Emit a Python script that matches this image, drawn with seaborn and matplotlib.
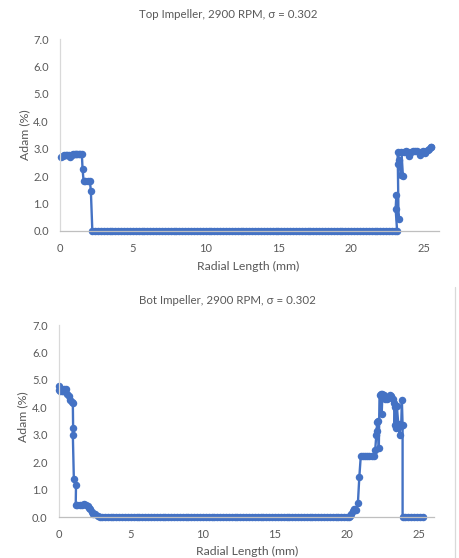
import matplotlib
matplotlib.use("Agg")
import matplotlib.pyplot as plt
from matplotlib.lines import Line2D
import seaborn as sns

# Top impeller: values, segment by segment
top_left_x = [0.10, 0.20, 0.30, 0.40, 0.50, 0.60, 0.70, 0.80, 0.90, 1.00, 1.10, 1.20,
              1.30, 1.40, 1.50, 1.55, 1.62, 1.75, 1.90, 2.05, 2.12]
top_left_y = [2.70, 2.72, 2.76, 2.77, 2.78, 2.77, 2.70, 2.77, 2.79, 2.79, 2.80, 2.81,
              2.82, 2.82, 2.80, 2.25, 1.82, 1.80, 1.82, 1.83, 1.45]
top_mid_x = [2.22, 2.4, 2.6, 2.8, 3.0, 3.2, 3.4, 3.6, 3.8, 4.0, 4.2, 4.4, 4.6, 4.8, 5.0,
             5.2, 5.4, 5.6, 5.8, 6.0, 6.2, 6.4, 6.6, 6.8, 7.0, 7.2, 7.4, 7.6, 7.8, 8.0,
             8.2, 8.4, 8.6, 8.8, 9.0, 9.2, 9.4, 9.6, 9.8, 10.0, 10.2, 10.4, 10.6, 10.8, 11.0,
             11.2, 11.4, 11.6, 11.8, 12.0, 12.2, 12.4, 12.6, 12.8, 13.0, 13.2, 13.4, 13.6, 13.8, 14.0,
             14.2, 14.4, 14.6, 14.8, 15.0, 15.2, 15.4, 15.6, 15.8, 16.0, 16.2, 16.4, 16.6, 16.8, 17.0,
             17.2, 17.4, 17.6, 17.8, 18.0, 18.2, 18.4, 18.6, 18.8, 19.0, 19.2, 19.4, 19.6, 19.8, 20.0,
             20.2, 20.4, 20.6, 20.8, 21.0, 21.2, 21.4, 21.6, 21.8, 22.0, 22.2, 22.4, 22.6, 22.8, 23.0,
             23.15]
top_mid_y = [0.0, 0.0, 0.0, 0.0, 0.0, 0.0, 0.0, 0.0, 0.0, 0.0, 0.0, 0.0, 0.0, 0.0, 0.0,
             0.0, 0.0, 0.0, 0.0, 0.0, 0.0, 0.0, 0.0, 0.0, 0.0, 0.0, 0.0, 0.0, 0.0, 0.0,
             0.0, 0.0, 0.0, 0.0, 0.0, 0.0, 0.0, 0.0, 0.0, 0.0, 0.0, 0.0, 0.0, 0.0, 0.0,
             0.0, 0.0, 0.0, 0.0, 0.0, 0.0, 0.0, 0.0, 0.0, 0.0, 0.0, 0.0, 0.0, 0.0, 0.0,
             0.0, 0.0, 0.0, 0.0, 0.0, 0.0, 0.0, 0.0, 0.0, 0.0, 0.0, 0.0, 0.0, 0.0, 0.0,
             0.0, 0.0, 0.0, 0.0, 0.0, 0.0, 0.0, 0.0, 0.0, 0.0, 0.0, 0.0, 0.0, 0.0, 0.0,
             0.0, 0.0, 0.0, 0.0, 0.0, 0.0, 0.0, 0.0, 0.0, 0.0, 0.0, 0.0, 0.0, 0.0, 0.0,
             0.0]
top_right_x = [23.05, 23.10, 23.25, 23.20, 23.18, 23.30, 23.40, 23.55, 23.45, 23.60,
               23.75, 23.90, 24.00, 24.10, 24.25, 24.40, 24.55, 24.70, 24.80, 24.95,
               25.05, 25.15, 25.25, 25.35, 25.45, 25.50]
top_right_y = [0.80, 1.30, 0.42, 2.45, 2.88, 2.60, 2.05, 2.00, 2.88, 2.88,
               2.90, 2.88, 2.75, 2.88, 2.90, 2.90, 2.90, 2.78, 2.88, 2.90,
               2.85, 2.92, 2.95, 3.00, 3.05, 3.05]

# Bottom impeller
bot_left_x = [0.00, 0.02, 0.10, 0.20, 0.30, 0.40, 0.50, 0.60, 0.70, 0.80, 0.90, 0.98,
              1.00, 0.98, 1.05, 1.20, 1.18, 1.30, 1.45, 1.60, 1.75, 1.90, 2.00, 2.10,
              2.20, 2.30, 2.40, 2.55, 2.70]
bot_left_y = [4.78, 4.62, 4.60, 4.60, 4.58, 4.65, 4.65, 4.50, 4.40, 4.25, 4.18, 4.15,
              3.25, 3.00, 1.40, 1.15, 0.43, 0.45, 0.45, 0.45, 0.47, 0.45, 0.40, 0.33,
              0.30, 0.20, 0.12, 0.10, 0.05]
bot_mid_x = [2.85, 3.0, 3.2, 3.4, 3.6, 3.8, 4.0, 4.2, 4.4, 4.6, 4.8, 5.0, 5.2, 5.4, 5.6, 5.8,
             6.0, 6.2, 6.4, 6.6, 6.8, 7.0, 7.2, 7.4, 7.6, 7.8, 8.0, 8.2, 8.4, 8.6, 8.8,
             9.0, 9.2, 9.4, 9.6, 9.8, 10.0, 10.2, 10.4, 10.6, 10.8, 11.0, 11.2, 11.4, 11.6, 11.8,
             12.0, 12.2, 12.4, 12.6, 12.8, 13.0, 13.2, 13.4, 13.6, 13.8, 14.0, 14.2, 14.4, 14.6, 14.8,
             15.0, 15.2, 15.4, 15.6, 15.8, 16.0, 16.2, 16.4, 16.6, 16.8, 17.0, 17.2, 17.4, 17.6, 17.8,
             18.0, 18.2, 18.4, 18.6, 18.8, 19.0, 19.2, 19.4, 19.6, 19.8, 20.0, 20.1]
bot_mid_y = [0.0, 0.0, 0.0, 0.0, 0.0, 0.0, 0.0, 0.0, 0.0, 0.0, 0.0, 0.0, 0.0, 0.0, 0.0, 0.0,
             0.0, 0.0, 0.0, 0.0, 0.0, 0.0, 0.0, 0.0, 0.0, 0.0, 0.0, 0.0, 0.0, 0.0, 0.0,
             0.0, 0.0, 0.0, 0.0, 0.0, 0.0, 0.0, 0.0, 0.0, 0.0, 0.0, 0.0, 0.0, 0.0, 0.0,
             0.0, 0.0, 0.0, 0.0, 0.0, 0.0, 0.0, 0.0, 0.0, 0.0, 0.0, 0.0, 0.0, 0.0, 0.0,
             0.0, 0.0, 0.0, 0.0, 0.0, 0.0, 0.0, 0.0, 0.0, 0.0, 0.0, 0.0, 0.0, 0.0, 0.0,
             0.0, 0.0, 0.0, 0.0, 0.0, 0.0, 0.0, 0.0, 0.0, 0.0, 0.0, 0.0]
bot_rise_x = [20.20, 20.30, 20.40, 20.50, 20.65, 20.75, 20.85, 20.95, 21.10, 21.25,
              21.40, 21.55, 21.70, 21.85, 21.95, 22.05, 22.00, 22.10, 22.15, 22.20]
bot_rise_y = [0.05, 0.12, 0.22, 0.28, 0.25, 0.50, 1.47, 2.22, 2.22, 2.22,
              2.22, 2.22, 2.22, 2.22, 2.45, 3.15, 3.00, 3.45, 3.50, 2.50]
bot_peak_x = [22.25, 22.35, 22.40, 22.45, 22.55, 22.65, 22.75, 22.85, 22.95, 23.05,
              23.15, 23.25, 23.30, 23.35, 23.40, 23.45, 23.55, 23.65, 23.70, 23.75,
              23.80, 23.85]
bot_peak_y = [4.45, 4.50, 3.75, 4.50, 4.45, 4.30, 4.30, 4.35, 4.45, 4.40,
              4.30, 4.15, 3.35, 4.00, 3.25, 4.05, 3.40, 3.00, 3.40, 3.30,
              4.25, 3.35]
bot_tail_x = [23.85, 24.05, 24.25, 24.45, 24.65, 24.85, 25.05, 25.25]
bot_tail_y = [0.0, 0.0, 0.0, 0.0, 0.0, 0.0, 0.0, 0.0]

x_ticks = [0, 5, 10, 15, 20, 25]
y_ticks = [0, 1, 2, 3, 4, 5, 6, 7]

BLUE = "#4472C4"
GREY = "#595959"

sns.set_style("white")
plt.rcParams["font.family"] = ["Lato", "DejaVu Sans"]

fig = plt.figure(figsize=(4.59, 5.58), dpi=100)


def draw_panel(rect, xs, ys, title, title_xy, xlabel_xy, ylabel_xy):
    ax = fig.add_axes(rect)
    sns.lineplot(x=xs, y=ys, sort=False, estimator=None, color=BLUE, linewidth=1.7,
                 marker="o", markersize=5.4, markeredgewidth=0, clip_on=False, ax=ax)
    ax.set_xlim(0, 26)
    ax.set_ylim(0, 7)
    ax.set_xticks(x_ticks)
    ax.set_yticks(y_ticks)
    ax.set_yticklabels([f"{v:.1f}" for v in y_ticks])
    ax.tick_params(length=0, labelsize=8, labelcolor=GREY)
    ax.tick_params(axis="x", pad=9)
    ax.tick_params(axis="y", pad=8)
    for side in ["top", "right"]:
        ax.spines[side].set_visible(False)
    ax.spines["left"].set_color("#d9d9d9")
    ax.spines["bottom"].set_color("#bfbfbf")
    ax.spines["left"].set_linewidth(0.9)
    ax.spines["bottom"].set_linewidth(0.9)
    ax.set_xlabel("")
    ax.set_ylabel("")
    W, H = 459, 558
    fig.text(title_xy[0] / W, 1 - title_xy[1] / H, title, ha="center", va="center",
             fontsize=8.3, color=GREY)
    fig.text(xlabel_xy[0] / W, 1 - xlabel_xy[1] / H, "Radial Length (mm)", ha="center",
             va="center", fontsize=8.8, color=GREY)
    fig.text(ylabel_xy[0] / W, 1 - ylabel_xy[1] / H, "Adam (%)", ha="center",
             va="center", rotation=90, fontsize=8.8, color=GREY)
    return ax


top_x = top_left_x + top_mid_x + top_right_x
top_y = top_left_y + top_mid_y + top_right_y
bot_x = bot_left_x + bot_mid_x + bot_rise_x + bot_peak_x + bot_tail_x
bot_y = bot_left_y + bot_mid_y + bot_rise_y + bot_peak_y + bot_tail_y

draw_panel([60 / 459, 327.3 / 558, 378.6 / 459, 191.4 / 558], top_x, top_y,
           "Top Impeller, 2900 RPM, σ = 0.302", (228, 15), (248, 266), (25, 135))
draw_panel([58.7 / 459, 41 / 558, 374.9 / 459, 192 / 558], bot_x, bot_y,
           "Bot Impeller, 2900 RPM, σ = 0.302", (227, 301), (247, 551), (23, 417))

# thin frame edge visible at the right of the lower chart
fig.add_artist(Line2D([455 / 459, 455 / 459], [0, 1 - 287 / 558],
                      transform=fig.transFigure, color="#d9d9d9", linewidth=0.9))

fig.savefig("out.png", dpi=100)
